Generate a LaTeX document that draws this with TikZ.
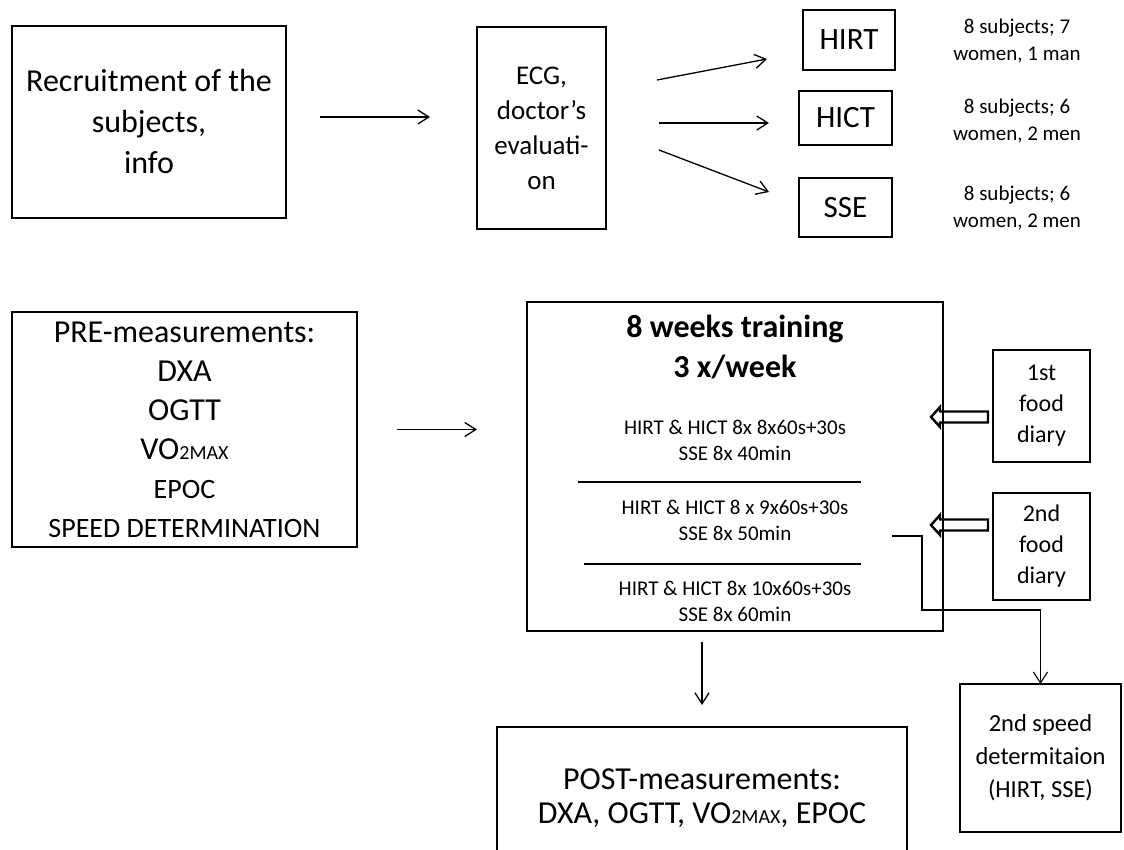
\documentclass[tikz,border=0pt]{standalone}
\usepackage{fontspec}
\setmainfont{Carlito}
\usetikzlibrary{arrows.meta,calc}
\newcommand\fsz[2]{\fontsize{#1}{#2}\selectfont}
\begin{document}
\begin{tikzpicture}[x=1pt,y=-1pt,
  box/.style={draw, line width=2.8pt, align=center, inner sep=0pt, outer sep=0pt},
  arr/.style={line width=1.3pt, -{Straight Barb[length=11pt,width=14pt]}},
  sepline/.style={line width=1.3pt},
  conn/.style={line width=1.1pt, -{Straight Barb[length=11pt,width=14pt]}},
  hollow/.style={line width=2.4pt, line join=miter},
  lbl/.style={align=center, inner sep=0pt}]
\useasboundingbox (0,0) rectangle (1124,850);
\clip (0,0) rectangle (1124,850);

% top row
\node[box, minimum width=274pt, minimum height=192pt, font=\fsz{32}{41}] (recruit) at (149,122) {Recruitment of the\\subjects,\\info};
\node[box, minimum width=129pt, minimum height=202pt, font=\fsz{27}{35}] (ecg) at (541.5,128) {ECG,\\doctor’s\\evaluati-\\on};
\node[box, minimum width=92pt, minimum height=60pt, font=\fsz{31}{37}] (hirt) at (849,40) {HIRT};
\node[box, minimum width=93pt, minimum height=54pt, font=\fsz{31}{37}] (hict) at (845.5,118) {HICT};
\node[box, minimum width=93pt, minimum height=59pt, font=\fsz{31}{37}] (sse) at (845.5,207.5) {SSE};
\node[lbl, font=\fsz{21}{27}] (s1) at (1017,41) {8 subjects; 7\\women, 1 man};
\node[lbl, font=\fsz{21}{27}] (s2) at (1017,121.5) {8 subjects; 6\\women, 2 men};
\node[lbl, font=\fsz{21}{27}] (s3) at (1017,208.5) {8 subjects; 6\\women, 2 men};

% middle row
\node[box, minimum width=345pt, minimum height=235pt, font=\fsz{32}{39}] (pre) at (184.5,429.5) {PRE-measurements:\\DXA\\OGTT\\VO{\fsz{20}{39}2MAX}\\{\fsz{28}{38}EPOC}\\{\fsz{28}{38}SPEED DETERMINATION}};
\node[box, minimum width=416pt, minimum height=329pt] (train) at (735,466.5) {};
\node[lbl, font=\bfseries\fsz{32}{40}] (title) at (735,347) {8 weeks training\\3 x/week};
\node[lbl, font=\fsz{21}{26}] (r1) at (735,440) {HIRT \& HICT 8x 8x60s+30s\\SSE 8x 40min};
\node[lbl, font=\fsz{21}{26}] (r2) at (735,520.5) {HIRT \& HICT 8 x 9x60s+30s\\SSE 8x 50min};
\node[lbl, font=\fsz{21}{26}] (r3) at (735,601) {HIRT \& HICT 8x 10x60s+30s\\SSE 8x 60min};
\draw[sepline] (578,482) -- (861,482);
\draw[sepline] (584,564) -- (861,564);
\node[box, minimum width=97pt, minimum height=112pt, font=\fsz{24}{31}] (fd1) at (1041.5,406) {1st\\food\\diary};
\node[box, minimum width=97pt, minimum height=107pt, font=\fsz{24}{31}] (fd2) at (1041.5,546.5) {2nd\\food\\diary};

% bottom row
\node[box, minimum width=161pt, minimum height=148pt, font=\fsz{24.5}{33}] (speed) at (1040.5,758) {2nd speed\\determitaion\\(HIRT, SSE)};
\node[box, minimum width=410pt, minimum height=143pt, font=\fsz{32}{34}] (post) at (702,798.5) {POST-measurements:\\DXA, OGTT, VO{\fsz{20}{34}2MAX}, EPOC};

% connectors
\coordinate (y117) at (0,117);
\draw[arr, shorten <=34pt, shorten >=47pt] (recruit.east |- y117) -- (ecg.west |- y117);
\coordinate (a1s) at (657,80);  \coordinate (a1e) at (767,59);
\coordinate (a2s) at (659,123); \coordinate (a2e) at (769,123);
\coordinate (a3s) at (659,150); \coordinate (a3e) at (769,192);
\draw[arr] (a1s) -- (a1e);
\draw[arr] (a2s) -- (a2e);
\draw[arr] (a3s) -- (a3e);
\draw[arr, shorten <=40pt, shorten >=50pt] (pre.east) -- (train.west |- pre.east);
\draw[arr, shorten <=11pt, shorten >=22pt] (post.north |- train.south) -- (post.north);
\coordinate (c0) at (892,536);
\draw[conn] (c0) -- ++(30,0) -- ++(0,74) -| (speed.north);

% hollow block arrows from food diaries
\coordinate (t1) at (931,417);
\coordinate (t2) at (931,525);
\draw[hollow] (t1) -- ++(9,-10) -- ++(0,4.5) -- ($(fd1.west |- t1)+(-5,-5.5)$) -- ++(0,11) -- ($(t1)+(9,5.5)$) -- ++(0,4.5) -- cycle;
\draw[hollow] (t2) -- ++(9,-10) -- ++(0,4.5) -- ($(fd2.west |- t2)+(-5,-5.5)$) -- ++(0,11) -- ($(t2)+(9,5.5)$) -- ++(0,4.5) -- cycle;
\end{tikzpicture}
\end{document}
